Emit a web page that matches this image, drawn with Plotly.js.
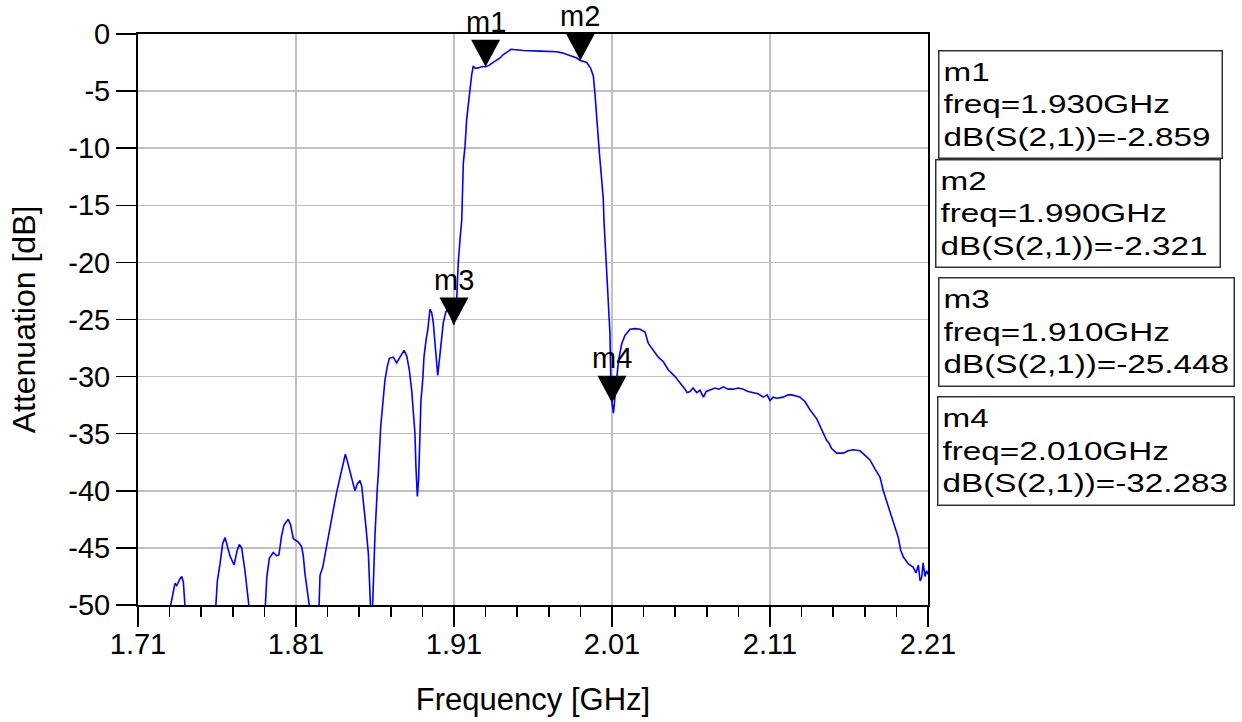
<!DOCTYPE html>
<html>
<head>
<meta charset="utf-8">
<script src="https://cdn.plot.ly/plotly-3.0.1.min.js"></script>
<style>html,body{margin:0;padding:0;background:#fff;}#chart{width:1242px;height:722px;}</style>
</head>
<body>
<div id="chart"></div>
<script>
// Frequency [GHz] of the measured S21 trace
const freqGHz = [
1.7100, 1.7200, 1.7285, 1.7307, 1.7334, 1.7345, 1.7366, 1.7377, 1.7387, 1.7397, 1.7416, 1.7490,
1.7580, 1.7594, 1.7602, 1.7619, 1.7636, 1.7651, 1.7665, 1.7682, 1.7708, 1.7728, 1.7741, 1.7756, 1.7777, 1.7804, 1.7850,
1.7895, 1.7908, 1.7915, 1.7931, 1.7956, 1.7978, 1.7992, 1.8009, 1.8024, 1.8051, 1.8066, 1.8083, 1.8115, 1.8136, 1.8146, 1.8157, 1.8168, 1.8184, 1.8215,
1.8238, 1.8246, 1.8252, 1.8269, 1.8284, 1.8304, 1.8326, 1.8341, 1.8358, 1.8378, 1.8396, 1.8412, 1.8425, 1.8442, 1.8459, 1.8473, 1.8488, 1.8505, 1.8516, 1.8526, 1.8543, 1.8558, 1.8568, 1.8577, 1.8585,
1.8600, 1.8615, 1.8621, 1.8636, 1.8653, 1.8663, 1.8678, 1.8691, 1.8716, 1.8737, 1.8758, 1.8784, 1.8801, 1.8817, 1.8832, 1.8842, 1.8853, 1.8859, 1.8868, 1.8876, 1.8885, 1.8891, 1.8902, 1.8910, 1.8923, 1.8934, 1.8948, 1.8959, 1.8969, 1.8980, 1.8991, 1.8997, 1.9007, 1.9022, 1.9032, 1.9049, 1.9062, 1.9075, 1.9087, 1.9100,
1.9117, 1.9127, 1.9138, 1.9149, 1.9159, 1.9170, 1.9180, 1.9191, 1.9201, 1.9212, 1.9222, 1.9233, 1.9254, 1.9277, 1.9300, 1.9322, 1.9341, 1.9359, 1.9391, 1.9412, 1.9444, 1.9461, 1.9475, 1.9505, 1.9539, 1.9644, 1.9750, 1.9784, 1.9813, 1.9847, 1.9877, 1.9900, 1.9916, 1.9940, 1.9965, 1.9982, 1.9992, 2.0003, 2.0020, 2.0035, 2.0045, 2.0049, 2.0056, 2.0066, 2.0077, 2.0087, 2.0092, 2.0098, 2.0100, 2.0109, 2.0120, 2.0130, 2.0141, 2.0162, 2.0182, 2.0214, 2.0246, 2.0277, 2.0309, 2.0330, 2.0362, 2.0393, 2.0425, 2.0456, 2.0499, 2.0530, 2.0562, 2.0575, 2.0594, 2.0613, 2.0636, 2.0657, 2.0679, 2.0696, 2.0720, 2.0752, 2.0777, 2.0805, 2.0834, 2.0868, 2.0898, 2.0932, 2.0961, 2.0995, 2.1024, 2.1058, 2.1082, 2.1100, 2.1120, 2.1142, 2.1184, 2.1214, 2.1237, 2.1265, 2.1290, 2.1322, 2.1353, 2.1396, 2.1427, 2.1459, 2.1473, 2.1490, 2.1522, 2.1564, 2.1594, 2.1627, 2.1670, 2.1701, 2.1733, 2.1765, 2.1796, 2.1817, 2.1843, 2.1870, 2.1891, 2.1912, 2.1927, 2.1944, 2.1976, 2.2007, 2.2024, 2.2039, 2.2050, 2.2060, 2.2069, 2.2081, 2.2091, 2.2100
];
// dB(S(2,1)) values
const s21dB = [
-60, -56, -52, -50, -48.1, -48.3, -47.7, -47.5, -48.0, -50.0, -50.5, -56,
-53, -50, -47.9, -46.4, -44.6, -44.1, -44.9, -45.7, -46.5, -45.2, -44.7, -45.0, -47.0, -50, -56,
-53, -50, -47.6, -45.9, -45.4, -45.7, -45.6, -43.9, -43.0, -42.5, -43.0, -44.2, -44.5, -44.9, -45.7, -47.3, -48.6, -50, -55,
-53, -50, -47.4, -46.7, -45.5, -44.1, -42.3, -41.3, -40.1, -38.8, -37.9, -36.8, -37.4, -38.3, -39.2, -40.0, -39.4, -39.1, -39.6, -40.8, -43.2, -45.5, -50, -52, -50,
-43.8, -39.7, -38.5, -34.4, -31.8, -30.3, -29.1, -28.4, -28.3, -28.8, -28.3, -27.7, -28.2, -29.4, -31.2, -32.9, -35.0, -37.9, -40.5, -39.0, -35.3, -32.1, -30.3, -28.3, -26.8, -25.9, -24.1, -24.4, -25.3, -27.1, -29.4, -29.9, -28.6, -26.5, -25.3, -24.3, -24.0, -24.5, -25.0, -25.448,
-23.3, -20.0, -18.0, -16.3, -11.3, -9.8, -7.5, -6.0, -4.6, -3.55, -2.8, -3.0, -2.97, -2.85, -2.859, -2.75, -2.55, -2.4, -2.1, -1.8, -1.5, -1.35, -1.36, -1.4, -1.45, -1.5, -1.56, -1.65, -1.8, -1.95, -2.1, -2.321, -2.4, -2.5, -3.0, -3.7, -5.2, -7.5, -10.4, -12.8, -14.5, -16.3, -18.0, -20.7, -23.6, -26.2, -30.0, -31.8, -32.283, -33.2, -31.5, -30.0, -28.6, -27.1, -26.4, -25.85, -25.8, -25.85, -26.1, -27.1, -27.7, -28.3, -28.7, -29.4, -30.0, -30.5, -31.1, -31.4, -31.3, -31.0, -31.4, -31.2, -31.8, -31.3, -31.2, -31.0, -31.1, -30.9, -31.1, -31.1, -31.0, -31.1, -31.3, -31.4, -31.5, -31.8, -31.6, -32.1, -31.8, -31.9, -31.8, -31.6, -31.6, -31.7, -31.8, -32.2, -32.9, -33.7, -34.7, -35.6, -35.8, -36.3, -36.7, -36.7, -36.5, -36.4, -36.5, -36.9, -37.3, -38.1, -38.8, -40.0, -41.1, -42.3, -43.2, -44.1, -45.2, -45.8, -46.4, -46.7, -47.2, -46.5, -47.9, -47.6, -46.3, -47.5, -47.0, -47.3
];
// Markers
const markerNames = ['m1', 'm2', 'm3', 'm4'];
const markerFreq = [1.930, 1.990, 1.910, 2.010];
const markerDb = [-2.859, -2.321, -25.448, -32.283];
// Tick labels
const xTickVals = [1.71, 1.81, 1.91, 2.01, 2.11, 2.21];
const xTickLabels = ['1.71', '1.81', '1.91', '2.01', '2.11', '2.21'];
const yTickVals = [0, -5, -10, -15, -20, -25, -30, -35, -40, -45, -50];
const yTickLabels = ['0', '-5', '-10', '-15', '-20', '-25', '-30', '-35', '-40', '-45', '-50'];

const FONT = 'Liberation Sans, Arial, Helvetica, sans-serif';

// Legend box placement (paper coords / px sizes) - layout only
const boxPos = [
  {x: 1.01266, y: 0.97198, w: 282, h: 106},
  {x: 1.00886, y: 0.78109, w: 283, h: 106},
  {x: 1.01266, y: 0.57443, w: 294, h: 107},
  {x: 1.01139, y: 0.36602, w: 295, h: 107}
];

const shapes = markerNames.map((n, i) => ({
  type: 'path', xref: 'x', yref: 'y',
  xsizemode: 'pixel', ysizemode: 'pixel',
  xanchor: markerFreq[i], yanchor: markerDb[i],
  path: 'M-14.5,27L14.5,27L0,0Z',
  fillcolor: '#000', line: {width: 0}, layer: 'above'
}));

const annotations = [];
markerNames.forEach((n, i) => {
  annotations.push({
    x: markerFreq[i], y: markerDb[i], xref: 'x', yref: 'y',
    text: n, showarrow: false, yanchor: 'bottom', yshift: 27,
    font: {family: FONT, size: 29, color: '#000'}
  });
});
markerNames.forEach((n, i) => {
  const b = boxPos[i];
  annotations.push({
    xref: 'paper', yref: 'paper', x: b.x, y: b.y, xanchor: 'left', yanchor: 'top',
    width: b.w - 8, height: b.h - 8, borderpad: 4, align: 'left', valign: 'middle',
    bordercolor: '#333', borderwidth: 1.5, bgcolor: '#fff', showarrow: false,
    text: n + '<br>freq=' + markerFreq[i].toFixed(3) + 'GHz<br>dB(S(2,1))=' + markerDb[i].toFixed(3),
    font: {family: FONT, size: 25, color: '#000'}
  });
});

const trace = {
  x: freqGHz, y: s21dB, type: 'scatter', mode: 'lines',
  line: {color: '#0000ff', width: 1.6}, hoverinfo: 'skip'
};

const layout = {
  width: 1242, height: 722,
  margin: {l: 138, r: 314, t: 34, b: 117},
  paper_bgcolor: '#fff', plot_bgcolor: '#fff',
  showlegend: false,
  font: {family: FONT, color: '#000'},
  xaxis: {
    range: [1.71, 2.21], tickmode: 'array', tickvals: xTickVals, ticktext: xTickLabels,
    ticks: 'outside', ticklen: 20, tickwidth: 1.5, tickcolor: '#000', ticklabelstandoff: -8,
    showgrid: true, gridcolor: '#c0c0c0', gridwidth: 1.5,
    showline: true, linecolor: '#000', linewidth: 2, mirror: true, zeroline: false,
    tickfont: {family: FONT, size: 29, color: '#000'},
    minor: {tickmode: 'linear', tick0: 1.71, dtick: 0.02, ticks: 'outside', ticklen: 10, tickwidth: 1.5, tickcolor: '#000', showgrid: false},
    title: {text: 'Frequency [GHz]', font: {family: FONT, size: 31, color: '#000'}, standoff: 30}
  },
  yaxis: {
    range: [-50, 0], tickmode: 'array', tickvals: yTickVals, ticktext: yTickLabels,
    ticks: 'outside', ticklen: 20, tickwidth: 1.5, tickcolor: '#000',
    showgrid: true, gridcolor: '#c0c0c0', gridwidth: 1.5,
    showline: true, linecolor: '#000', linewidth: 2, mirror: true, zeroline: false,
    tickfont: {family: FONT, size: 29, color: '#000'},
    title: {text: 'Attenuation [dB]', font: {family: FONT, size: 32, color: '#000'}, standoff: 23}
  },
  shapes: shapes,
  annotations: annotations
};

Plotly.newPlot('chart', [trace], layout, {staticPlot: true, displayModeBar: false}).then(() => {
  // widen the legend box text horizontally (the reference uses a wide rendering)
  document.querySelectorAll('.annotation-text').forEach(t => {
    if (t.textContent.indexOf('freq=') < 0) return;
    const bb = t.getBBox();
    const prev = t.getAttribute('transform') || '';
    t.setAttribute('transform', (prev + ' translate(' + bb.x + ',0) scale(1.33,1) translate(' + (-bb.x) + ',0)').trim());
  });
});
</script>
</body>
</html>
